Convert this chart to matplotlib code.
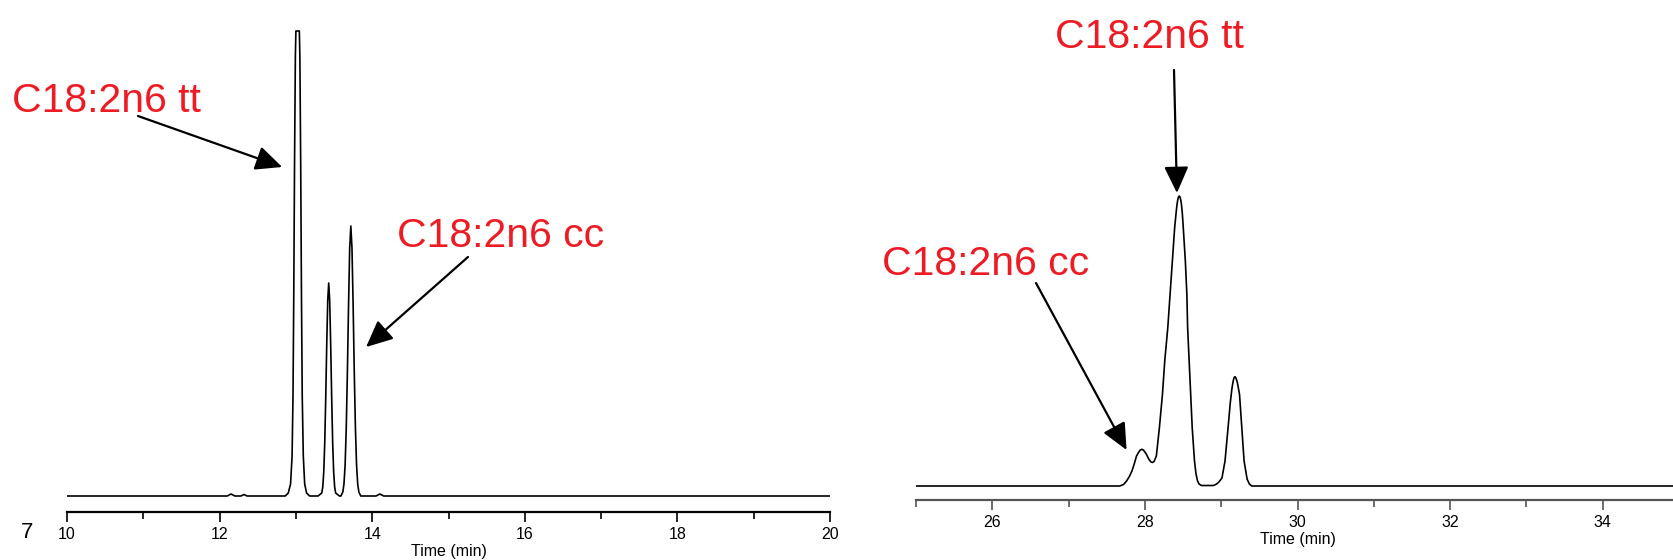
import matplotlib
matplotlib.use("Agg")
import matplotlib.pyplot as plt
from matplotlib.ticker import MultipleLocator, FuncFormatter

plt.rcParams['font.family'] = ['Liberation Sans', 'DejaVu Sans']

# ---------------- data ----------------
# Left chromatogram: time (min) and signal (arbitrary units above baseline)
left_time = [10.0, 12.10, 12.15, 12.20, 12.28, 12.32, 12.36,
             12.86, 12.90, 12.93, 12.95, 12.962, 12.972, 12.982, 12.993, 13.00,
             13.045, 13.052, 13.063, 13.073, 13.083, 13.097, 13.115, 13.14, 13.18,
             13.29, 13.339, 13.352, 13.365, 13.378, 13.391, 13.404, 13.417, 13.43,
             13.443, 13.456, 13.469, 13.482, 13.495, 13.508, 13.521, 13.57,
             13.59, 13.615, 13.63, 13.645, 13.66, 13.675, 13.69, 13.705, 13.72,
             13.735, 13.75, 13.765, 13.78, 13.795, 13.81, 13.825, 13.85,
             14.05, 14.10, 14.15, 20.0]
left_signal = [0, 0, 2, 0, 0, 1.5, 0,
               0, 3, 12, 40, 100, 200, 330, 440, 465,
               465, 440, 330, 200, 100, 40, 12, 3, 0,
               0, 3, 9, 24, 53, 98, 151, 195, 213,
               195, 151, 98, 53, 24, 9, 3, 0,
               0, 4, 12, 31, 68, 124, 191, 248, 270,
               248, 191, 124, 68, 31, 12, 4, 0,
               0, 2, 0, 0]

# Right chromatogram
right_time = [25.0, 27.67, 27.72, 27.76, 27.80, 27.83, 27.86, 27.89, 27.92, 27.94, 27.96,
              27.98, 28.00, 28.02, 28.05, 28.08, 28.10, 28.12, 28.15, 28.19, 28.23, 28.26,
              28.30, 28.33, 28.36, 28.39, 28.40, 28.41, 28.42, 28.43, 28.44, 28.45,
              28.46, 28.47, 28.48, 28.49, 28.50, 28.53, 28.55, 28.56, 28.58, 28.60,
              28.62, 28.65, 28.67, 28.69, 28.71, 28.74, 28.90, 28.94, 28.97, 29.01,
              29.05, 29.09, 29.12, 29.14, 29.15, 29.16, 29.17, 29.18, 29.19, 29.20,
              29.21, 29.22, 29.24, 29.27, 29.30, 29.34, 29.37, 29.40, 35.0]
right_signal = [0, 0, 1.5, 5, 10, 15, 22, 30, 34, 36, 36.7,
                36, 34, 31.7, 27, 24, 23.5, 24.5, 30, 58.3, 91.7, 125,
                158.3, 191.7, 225, 258.3, 266, 274, 281, 286, 289, 290,
                289, 286, 281, 273, 262, 225, 191.7, 158.3, 125, 91.7,
                58.3, 25, 12, 5, 2, 0.5, 0.5, 2, 4, 8,
                25, 58.3, 84, 97, 102, 106, 108.5, 109.3, 108.5, 106.5,
                104, 100, 91.7, 58.3, 25, 6.7, 2, 0, 0]

left_xlim = (10, 20)
right_xlim = (25, 35)
label_tt = "C18:2n6 tt"
label_cc = "C18:2n6 cc"
xlabel = "Time (min)"
stray_label = "7"

# ---------------- layout ----------------
W, H = 1674, 560
fig = plt.figure(figsize=(W / 100, H / 100), dpi=100)

def px_axes(x0, x1, y_bottom, y_top):
    return fig.add_axes([x0 / W, (H - y_bottom) / H, (x1 - x0) / W, (y_bottom - y_top) / H])

red = '#ED1C24'

# left axes: spine at y=512, baseline at 496
axL = px_axes(67, 830, 512, 0)
axL.plot(left_time, left_signal, color='black', lw=1.2, solid_joinstyle='round')
axL.set_xlim(*left_xlim)
axL.set_ylim(-16, 496)

# right axes: spine at y=500, baseline at 486
axR = px_axes(916, 1679, 500, 0)
axR.plot(right_time, right_signal, color='black', lw=1.2, solid_joinstyle='round')
axR.set_xlim(*right_xlim)
axR.set_ylim(-14, 486)

for ax, spine_col in ((axL, 'black'), (axR, '#555555')):
    for s in ('top', 'right', 'left'):
        ax.spines[s].set_visible(False)
    ax.spines['bottom'].set_color(spine_col)
    ax.spines['bottom'].set_linewidth(1.6)
    ax.set_yticks([])
    ax.xaxis.set_major_locator(MultipleLocator(2))
    ax.xaxis.set_minor_locator(MultipleLocator(1))
    ax.tick_params(axis='x', which='major', length=7, width=1.2, colors=spine_col,
                   labelcolor='black', labelsize=11.5, pad=4)
    ax.tick_params(axis='x', which='minor', length=5, width=1.2, colors=spine_col)
    ax.xaxis.set_major_formatter(FuncFormatter(lambda v, p: f"{int(round(v))}"))
    ax.set_xlabel(xlabel, fontsize=11.5, labelpad=1)
    ax.patch.set_alpha(0)

# stray label at far left
fig.text(27 / W, (H - 532) / H, stray_label, fontsize=16, ha='center', va='center')

# annotations
def label(xpx, ybase, s):
    fig.text(xpx / W, (H - ybase) / H, s, color=red, fontsize=29.5, ha='left', va='baseline')

def arrow(ax, tip, tail_px):
    ax.annotate('', xy=tip, xycoords='data',
                xytext=(tail_px[0], H - tail_px[1]), textcoords='figure pixels',
                arrowprops=dict(arrowstyle='-|>,head_length=0.65,head_width=0.3',
                                color='black', lw=1.6, mutation_scale=25,
                                shrinkA=0, shrinkB=0),
                annotation_clip=False)

label(12, 111.7, label_tt)
arrow(axL, (12.82, 329), (138, 116))
label(397, 246.7, label_cc)
arrow(axL, (13.92, 149), (468, 257))

label(1055, 48, label_tt)
arrow(axR, (28.42, 293), (1174, 70))
label(882, 275, label_cc)
arrow(axR, (27.76, 36), (1036, 283))

fig.savefig('out.png', dpi=100)
